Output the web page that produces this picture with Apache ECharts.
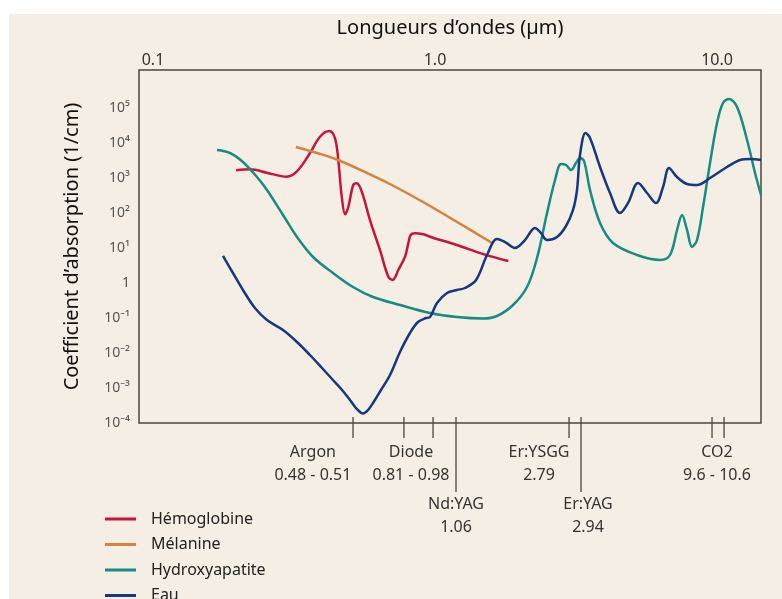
<!DOCTYPE html>
<html lang="fr">
<head>
    <meta charset="UTF-8">
    <title>Coefficient d'absorption</title>
    <style>
        *{ margin: 0; padding: 0;}
        body{ background: #fff; width: 782px; height: 599px; overflow: hidden; position: relative;}
        .bg{ position: absolute; left: 9px; top: 14px; right: 0; bottom: 0; background: #f4eee4;}
        #chart{ position: absolute; left: 0; top: 0; width: 782px; height: 599px;}
    </style>
    <script src="https://cdn.jsdelivr.net/npm/echarts@6/dist/echarts.min.js"></script>
</head>
<body>
    <div class="bg"></div>
    <div id="chart"></div>
    <script>
        // [longueur d'onde (µm), coefficient (1/cm)]
        var hemoglobine = [
            [0.197, 1660], [0.221, 1770], [0.253, 1420], [0.298, 1090], [0.323, 1510], [0.36, 5080],
            [0.391, 15100], [0.422, 22000], [0.442, 13600], [0.454, 3270], [0.467, 292], [0.48, 92],
            [0.493, 151], [0.513, 631], [0.528, 706], [0.55, 406], [0.588, 63], [0.638, 8.8],
            [0.683, 1.5], [0.708, 1.22], [0.741, 2.35], [0.783, 5.6], [0.804, 13.6], [0.82, 23.5],
            [0.849, 26.3], [0.909, 24.6], [0.96, 21], [1.194, 12.2], [1.483, 6.7], [1.82, 4.25]
        ];
        var melanine = [
            [0.321, 7690], [0.382, 5180], [0.449, 3380], [0.574, 1390], [0.692, 674],
            [0.907, 206], [1.197, 55.3], [1.593, 13.9]
        ];
        var hydroxyapatite = [
            [0.1686, 6310], [0.1875, 5180], [0.2085, 2865], [0.2337, 1068], [0.2536, 454], [0.2891, 87.7],
            [0.324, 20.6], [0.3694, 5.53], [0.4347, 1.93], [0.5118, 0.769], [0.6028, 0.398], [0.7513, 0.235],
            [0.96, 0.139], [1.197, 0.107], [1.48, 0.097], [1.659, 0.114], [1.891, 0.235], [2.12, 0.769],
            [2.3, 5.18], [2.496, 100], [2.665, 877], [2.798, 2510], [2.914, 2350], [3.036, 1690],
            [3.162, 2680], [3.267, 3730], [3.376, 3060], [3.545, 454], [3.847, 51.8], [4.278, 13.9],
            [5.203, 6.31], [6.28, 4.54], [6.812, 6.31], [7.215, 32.7], [7.515, 87.7], [7.828, 32.7],
            [8.153, 10.7], [8.494, 16.9], [8.921, 148], [9.445, 2680], [10.0, 37200], [10.5, 139000],
            [11.03, 181000], [11.78, 107000], [12.78, 12200], [13.64, 1390], [14.32, 327]
        ];
        var eau = [
            [0.1771, 5.91], [0.1921, 1.93], [0.2085, 0.631], [0.2299, 0.193], [0.2536, 0.0877], [0.2891, 0.0454],
            [0.324, 0.0206], [0.3602, 0.00877], [0.3974, 0.00373], [0.4347, 0.00169], [0.4682, 0.000877],
            [0.4995, 0.000454], [0.5248, 0.000268], [0.5556, 0.000187], [0.5787, 0.000235], [0.6028, 0.000372],
            [0.6434, 0.000877], [0.6925, 0.00235], [0.7513, 0.0107], [0.8151, 0.0373], [0.8703, 0.077],
            [0.9292, 0.1], [0.96, 0.107], [1.0165, 0.268], [1.1031, 0.518], [1.197, 0.631], [1.277, 0.72],
            [1.398, 1.22], [1.529, 6.31], [1.659, 18.1], [1.771, 14.8], [1.921, 10], [2.085, 16.9],
            [2.262, 37.3], [2.376, 26.8], [2.496, 16.9], [2.708, 20.6], [2.914, 42.5], [3.086, 122],
            [3.188, 454], [3.267, 4540], [3.418, 19300], [3.545, 13900], [3.847, 2060], [4.174, 373],
            [4.529, 100], [4.834, 193], [5.248, 720], [5.647, 373], [6.077, 193], [6.435, 553],
            [6.758, 1930], [7.215, 1068], [7.828, 674], [8.494, 631], [9.445, 1000], [10.85, 2060],
            [12.07, 3270], [13.09, 3490], [14.32, 3270]
        ];

        // graduations du haut
        var topTicks = [0.1, 1, 10];

        // lasers sous l'axe
        var laserNames = ['Argon', 'Diode', 'Nd:YAG', 'Er:YSGG', 'Er:YAG', 'CO2'];
        var laserRanges = ['0.48 - 0.51', '0.81 - 0.98', '1.06', '2.79', '2.94', '9.6 - 10.6'];
        var laserTicks = [[0.512], [0.776, 0.984], [1.187], [2.987], [3.294], [9.6, 10.59]];
        var laserLabelAt = [0.369, 0.822, 1.187, 2.338, 3.488, 10.0];
        var laserRow = [0, 0, 1, 0, 1, 0];

        var xMin = 0.0892, xMax = 14.32;
        var yMin = 0.0001, yMax = 1.218e6;

        var sup = { '0': '⁰', '1': '¹', '2': '²', '3': '³', '4': '⁴', '5': '⁵', '6': '⁶', '7': '⁷', '8': '⁸', '9': '⁹', '-': '⁻' };
        function powLabel(v) {
            var e = Math.log10(v);
            var r = Math.round(e);
            if (Math.abs(e - r) > 1e-6 || r > 5) return '';
            if (r === 0) return '1';
            return '10' + String(r).split('').map(function (c) { return sup[c]; }).join('');
        }

        var tickData = [];
        laserTicks.forEach(function (arr, i) {
            arr.forEach(function (t) { tickData.push([t, yMin, laserRow[i]]); });
        });
        var labelData = laserLabelAt.map(function (x, i) { return [x, yMin, laserRow[i]]; });
        var topData = topTicks.map(function (x) { return [x, yMax]; });

        var font = '"Noto Sans", "DejaVu Sans", sans-serif';
        var colors = ['#c8143a', '#d7823c', '#168c82', '#17377f'];

        var myChart = echarts.init(document.getElementById('chart'));
        var option = {
            backgroundColor: 'transparent',
            animation: false,
            color: colors,
            grid: {
                left: 139, right: 21, top: 70, bottom: 176,
                show: true, borderColor: '#4a4640', borderWidth: 1.5, backgroundColor: 'transparent'
            },
            legend: {
                orient: 'vertical',
                left: 105, top: 511,
                width: 200, height: 150,
                padding: 0,
                itemGap: 9.5,
                itemWidth: 31, itemHeight: 3,
                icon: 'rect',
                textStyle: { fontFamily: font, fontSize: 16, color: '#222', lineHeight: 16, padding: [0, 0, 0, 10] },
                data: ['Hémoglobine', 'Mélanine', 'Hydroxyapatite', 'Eau']
            },
            xAxis: {
                type: 'log',
                position: 'top',
                min: xMin, max: xMax,
                name: 'Longueurs d’ondes (µm)',
                nameLocation: 'middle',
                nameGap: 32,
                nameTextStyle: { fontFamily: font, fontSize: 20, color: '#111' },
                axisLine: { show: false },
                axisTick: { show: false },
                splitLine: { show: false },
                axisLabel: { show: false }
            },
            yAxis: {
                type: 'log',
                min: yMin, max: yMax,
                interval: 1,
                name: 'Coefficient d’absorption (1/cm)',
                nameLocation: 'middle',
                nameGap: 57,
                nameTextStyle: { fontFamily: font, fontSize: 20, color: '#111' },
                axisLine: { show: false },
                axisTick: { show: false },
                splitLine: { show: false },
                axisLabel: {
                    margin: 9,
                    fontFamily: font, fontSize: 14, color: '#555',
                    showMaxLabel: false,
                    formatter: powLabel
                }
            },
            series: [
                { name: 'Hémoglobine', type: 'line', data: hemoglobine, smooth: 0.35, showSymbol: false, lineStyle: { width: 2.5 } },
                { name: 'Mélanine', type: 'line', data: melanine, smooth: 0.35, showSymbol: false, lineStyle: { width: 2.5 } },
                { name: 'Hydroxyapatite', type: 'line', data: hydroxyapatite, smooth: 0.35, showSymbol: false, lineStyle: { width: 2.5 } },
                { name: 'Eau', type: 'line', data: eau, smooth: 0.35, showSymbol: false, lineStyle: { width: 2.5 } },
                {
                    // étiquettes 0.1 / 1.0 / 10.0 au-dessus du cadre
                    type: 'custom',
                    clip: false,
                    silent: true,
                    data: topData,
                    encode: { x: 0, y: 1 },
                    renderItem: function (params, api) {
                        var p = api.coord([api.value(0), api.value(1)]);
                        return {
                            type: 'text',
                            x: p[0], y: p[1] - 10,
                            style: {
                                text: Number(api.value(0)).toFixed(1),
                                align: 'center', verticalAlign: 'middle',
                                fontFamily: font, fontSize: 16, fill: '#333'
                            }
                        };
                    }
                },
                {
                    type: 'custom',
                    clip: false,
                    silent: true,
                    data: tickData,
                    encode: { x: 0, y: 1 },
                    renderItem: function (params, api) {
                        var p = api.coord([api.value(0), api.value(1)]);
                        var len = api.value(2) ? 69 : 15;
                        return {
                            type: 'line',
                            shape: { x1: p[0], y1: p[1] - 6, x2: p[0], y2: p[1] + len },
                            style: { stroke: '#4a4640', lineWidth: 1.3 }
                        };
                    }
                },
                {
                    type: 'custom',
                    clip: false,
                    silent: true,
                    data: labelData,
                    encode: { x: 0, y: 1 },
                    renderItem: function (params, api) {
                        var i = params.dataIndex;
                        var p = api.coord([api.value(0), api.value(1)]);
                        var off = api.value(2) ? 69.5 : 17.5;
                        return {
                            type: 'text',
                            x: p[0], y: p[1] + off,
                            style: {
                                text: laserNames[i] + '\n' + laserRanges[i],
                                align: 'center', verticalAlign: 'top',
                                fontFamily: font, fontSize: 16, lineHeight: 23,
                                fill: '#333'
                            }
                        };
                    }
                }
            ]
        };
        myChart.setOption(option);
    </script>
</body>
</html>
